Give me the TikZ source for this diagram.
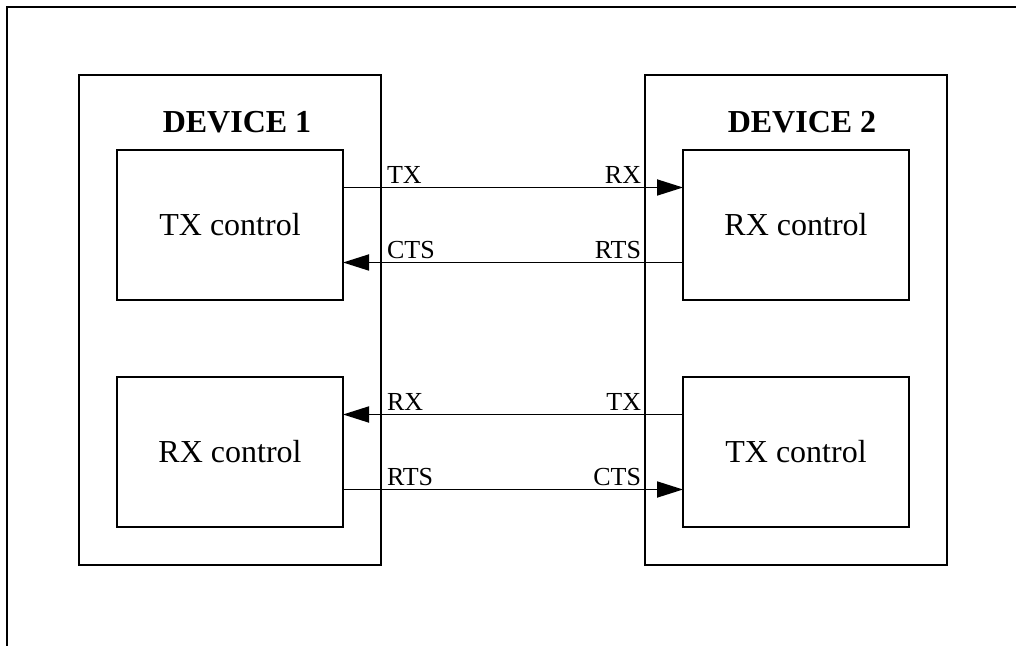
\documentclass[tikz,border=0pt]{standalone}
\usepackage{fontspec}
\setmainfont{Liberation Serif}
\usetikzlibrary{arrows.meta,positioning}

\tikzset{
  devbox/.style={draw,line width=1pt,minimum width=151pt,minimum height=245pt,inner sep=0pt,outer sep=0pt},
  ctrlbox/.style={draw,line width=1pt,minimum width=113pt,minimum height=75pt,inner sep=0pt,outer sep=0pt,font=\fontsize{16}{19}\selectfont},
  devname/.style={font=\bfseries\fontsize{16}{19}\selectfont},
  sig/.style={font=\fontsize{13}{15}\selectfont,inner sep=1.5pt}
}

\begin{document}
\begin{tikzpicture}[x=0.5pt,y=-0.5pt,>={Triangle[length=13pt,width=8pt]},line width=0.9pt]
    \useasboundingbox (0,0) rectangle (1016,646);
    % outer frame, cut at right and bottom
    \draw[line width=1pt] (7,646) -- (7,7) -- (1016,7);
    \node[devbox] (dev1) at (230,320) {};
    \node[devbox] (dev2) at (795.5,320) {};
    \node[devname] (name1) at (237,122) {DEVICE 1};
    \node[devname] (name2) at (802,122) {DEVICE 2};
    \node[ctrlbox] (tx1) at (230,225) {TX control};
    \node[ctrlbox] (rx1) at (230,452) {RX control};
    \node[ctrlbox] (rx2) at (796,225) {RX control};
    \node[ctrlbox] (tx2) at (796,452) {TX control};
    % signal lines
    \draw[->] ([yshift=18.75pt]tx1.east) -- node[sig,pos=0.118,above right]{TX} node[sig,pos=0.888,above left]{RX} ([yshift=18.75pt]rx2.west);
    \draw[<-] ([yshift=-18.75pt]tx1.east) -- node[sig,pos=0.118,above right]{CTS} node[sig,pos=0.888,above left]{RTS} ([yshift=-18.75pt]rx2.west);
    \draw[<-] ([yshift=18.75pt]rx1.east) -- node[sig,pos=0.118,above right]{RX} node[sig,pos=0.888,above left]{TX} ([yshift=18.75pt]tx2.west);
    \draw[->] ([yshift=-18.75pt]rx1.east) -- node[sig,pos=0.118,above right]{RTS} node[sig,pos=0.888,above left]{CTS} ([yshift=-18.75pt]tx2.west);
\end{tikzpicture}
\end{document}
